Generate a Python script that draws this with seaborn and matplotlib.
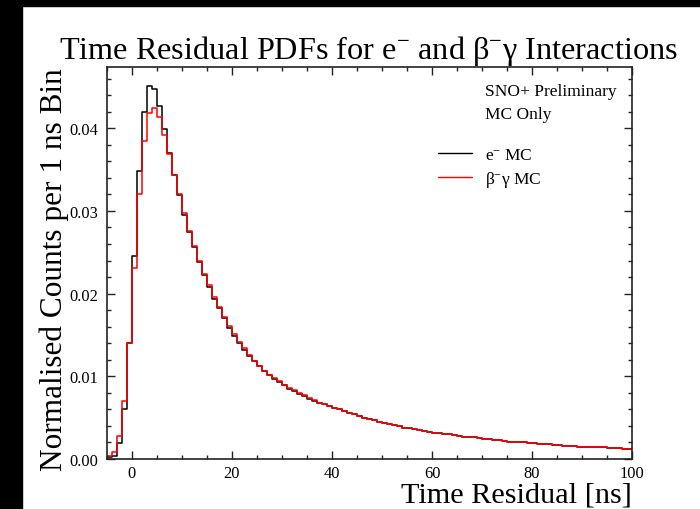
"""Time residual PDFs for e- and beta-gamma MC (SNO+ preliminary)."""
import matplotlib
matplotlib.use("Agg")
import matplotlib.pyplot as plt
from matplotlib.lines import Line2D
from matplotlib.patches import Rectangle
from matplotlib.ticker import FormatStrFormatter, MultipleLocator
import numpy as np
import pandas as pd
import seaborn as sns

# 1 ns bins from -5 to 100 ns
bin_edges = list(range(-5, 101))

electron_mc = [
    0.0002, 0.0004, 0.0019, 0.0060, 0.0140,
    0.0245, 0.0348, 0.0420, 0.0451, 0.0448, 0.0427, 0.0399, 0.0370, 0.0343, 0.0319,
    0.0295, 0.0274, 0.0256, 0.0238, 0.0222, 0.0208, 0.0194, 0.0182, 0.0170, 0.0159,
    0.0149, 0.0140, 0.0132, 0.0125, 0.0118, 0.0112, 0.0106, 0.0101, 0.0097, 0.0093,
    0.0089, 0.0085, 0.0082, 0.0079, 0.0076, 0.0073, 0.0070, 0.0068, 0.0066, 0.0064,
    0.0062, 0.0060, 0.0058, 0.0056, 0.0054, 0.0052, 0.0050, 0.0048, 0.0047, 0.0045,
    0.0044, 0.0042, 0.0041, 0.0040, 0.0038, 0.0037, 0.0036, 0.0035, 0.0034, 0.0033,
    0.0032, 0.0031, 0.0030, 0.0030, 0.0029, 0.0028, 0.0027, 0.0026, 0.0026, 0.0025,
    0.0024, 0.0024, 0.0023, 0.0023, 0.0022, 0.0021, 0.0021, 0.0020, 0.0020, 0.0019,
    0.0019, 0.0018, 0.0018, 0.0018, 0.0017, 0.0017, 0.0016, 0.0016, 0.0016, 0.0015,
    0.0015, 0.0015, 0.0014, 0.0014, 0.0014, 0.0013, 0.0013, 0.0013, 0.0012, 0.0012,
]

beta_gamma_mc = [
    0.0004, 0.0009, 0.0028, 0.0070, 0.0140,
    0.0231, 0.0321, 0.0385, 0.0418, 0.0424, 0.0413, 0.0392, 0.0369, 0.0344, 0.0321,
    0.0297, 0.0276, 0.0258, 0.0240, 0.0224, 0.0210, 0.0196, 0.0184, 0.0172, 0.0161,
    0.0151, 0.0142, 0.0134, 0.0126, 0.0119, 0.0113, 0.0107, 0.0102, 0.0098, 0.0094,
    0.0090, 0.0086, 0.0083, 0.0080, 0.0077, 0.0074, 0.0071, 0.0068, 0.0066, 0.0064,
    0.0062, 0.0060, 0.0058, 0.0056, 0.0054, 0.0052, 0.0050, 0.0048, 0.0047, 0.0045,
    0.0044, 0.0042, 0.0041, 0.0040, 0.0038, 0.0037, 0.0036, 0.0035, 0.0034, 0.0033,
    0.0032, 0.0031, 0.0030, 0.0030, 0.0029, 0.0028, 0.0027, 0.0026, 0.0026, 0.0025,
    0.0024, 0.0024, 0.0023, 0.0023, 0.0022, 0.0021, 0.0021, 0.0020, 0.0020, 0.0019,
    0.0019, 0.0018, 0.0018, 0.0018, 0.0017, 0.0017, 0.0016, 0.0016, 0.0016, 0.0015,
    0.0015, 0.0015, 0.0014, 0.0014, 0.0014, 0.0013, 0.0013, 0.0013, 0.0012, 0.0012,
]

sns.set_theme(style="ticks")
plt.rcParams["font.family"] = ["Liberation Serif", "DejaVu Serif"]
plt.rcParams["mathtext.fontset"] = "custom"
plt.rcParams["mathtext.rm"] = "Liberation Serif"
plt.rcParams["mathtext.default"] = "rm"
plt.rcParams["text.color"] = "black"

fig = plt.figure(figsize=(7.0, 5.1), dpi=100)
fig.patch.set_facecolor("white")
# black frame bands of the original screenshot
fig.add_artist(Rectangle((0, 0), 22 / 700, 1, transform=fig.transFigure, color="black", zorder=-1))
fig.add_artist(Rectangle((0, 1 - 7 / 510), 1, 7 / 510, transform=fig.transFigure, color="black", zorder=-1))

ax = fig.add_axes([107 / 700, 50 / 510, 525 / 700, 392 / 510])

edges = np.array(bin_edges, dtype=float)
hist = pd.DataFrame({
    "t": (edges[:-1] + edges[1:]) / 2,
    "electron": electron_mc,
    "beta_gamma": beta_gamma_mc,
})
for column, color in [("electron", "black"), ("beta_gamma", "red")]:
    sns.histplot(data=hist, x="t", weights=column, binwidth=1, binrange=(-5, 100),
                 element="step", fill=False, color=color, linewidth=1.1, ax=ax)

ax.set_xlim(-5, 100)
ax.set_ylim(0, 0.0474)
ax.xaxis.set_major_locator(MultipleLocator(20))
ax.xaxis.set_minor_locator(MultipleLocator(5))
ax.yaxis.set_major_locator(MultipleLocator(0.01))
ax.yaxis.set_minor_locator(MultipleLocator(0.002))
ax.yaxis.set_major_formatter(FormatStrFormatter("%.2f"))
ax.tick_params(which="both", direction="in", top=True, right=True, labelsize=11.8,
               color="#222222", width=1.0, labelcolor="black")
ax.tick_params(which="major", length=6, pad=6)
ax.tick_params(axis="x", which="major", pad=4)
ax.tick_params(which="minor", length=3)
for spine in ax.spines.values():
    spine.set_linewidth(1.2)
    spine.set_color("#222222")
ax.set_xlabel("")
ax.set_ylabel("")

ax.text(-0.100, 1.0, "Normalised Counts per 1 ns Bin", rotation=90, ha="center", va="top",
        fontsize=22.5, transform=ax.transAxes)
ax.text(1.0, -0.091, "Time Residual [ns]", ha="right", va="center", fontsize=21.8,
        transform=ax.transAxes)
ax.set_title(r"Time Residual PDFs for e$^{-}$ and β$^{-}$γ Interactions",
             fontsize=23.2, pad=1, x=0.497, color="black")

ax.text(0.72, 0.938, "SNO+ Preliminary", fontsize=12.5, va="center", transform=ax.transAxes)
ax.text(0.72, 0.879, "MC Only", fontsize=12.5, va="center", transform=ax.transAxes)

handles = [Line2D([], [], color="black", lw=1.0), Line2D([], [], color="red", lw=1.0)]
ax.legend(handles, [r"e$^{-}$ MC", r"β$^{-}$γ MC"], loc="upper left",
          bbox_to_anchor=(0.630, 0.796), frameon=False, fontsize=12.5, borderpad=0,
          borderaxespad=0, handlelength=1.95, handletextpad=0.75, labelspacing=0.32)

fig.savefig("out.png", dpi=100)
